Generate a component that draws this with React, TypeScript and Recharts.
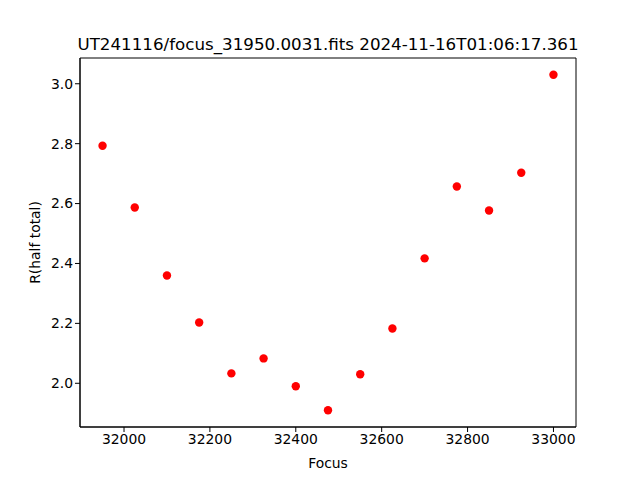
import { ScatterChart, Scatter, XAxis, YAxis, ReferenceArea } from "recharts";

// focus positions and measured half-total radius
const focus = [31950, 32025, 32100, 32175, 32250, 32325, 32400, 32475, 32550, 32625, 32700, 32775, 32850, 32925, 33000];
const rHalf = [2.793, 2.587, 2.36, 2.203, 2.033, 2.083, 1.99, 1.91, 2.03, 2.183, 2.417, 2.657, 2.577, 2.703, 3.03];

const xTicks = [32000, 32200, 32400, 32600, 32800, 33000];
const yTicks = [2.0, 2.2, 2.4, 2.6, 2.8, 3.0];

const data = focus.map((f, i) => ({ focus: f, r: rHalf[i] }));

const xDomain = [31897.5, 33052.5];
const yDomain = [1.854, 3.086];

const font = "DejaVu Sans, sans-serif";
const tickStyle = { fontSize: 13.9, fill: "#000", fontFamily: font };

const Dot = (props: any) => <circle cx={props.cx} cy={props.cy} r={4.2} fill="#ff0000" />;

export default function App() {
  return (
    <div style={{ position: "absolute", left: 0, top: 0, width: 640, height: 480, background: "#fff" }}>
      <ScatterChart width={640} height={480} margin={{ top: 58, right: 64, bottom: 0, left: 0 }}>
        <text x={328} y={50} textAnchor="middle" fontSize={16.7} fontFamily={font} fill="#000">
          UT241116/focus_31950.0031.fits 2024-11-16T01:06:17.361
        </text>
        <XAxis
          dataKey="focus"
          type="number"
          domain={xDomain}
          allowDataOverflow
          ticks={xTicks}
          height={53}
          tickSize={5}
          tick={tickStyle}
          stroke="#000"
          tickLine={{ stroke: "#000" }}
          label={{ value: "Focus", position: "insideBottom", offset: 12, fontSize: 13.9, fill: "#000", fontFamily: font }}
        />
        <YAxis
          dataKey="r"
          type="number"
          domain={yDomain}
          allowDataOverflow
          ticks={yTicks}
          width={80}
          tickSize={5}
          tick={tickStyle}
          tickFormatter={(v: number) => v.toFixed(1)}
          stroke="#000"
          tickLine={{ stroke: "#000" }}
          label={{ value: "R(half total)", angle: -90, position: "insideLeft", offset: 35, fontSize: 13.9, fill: "#000", fontFamily: font, style: { textAnchor: "middle" } }}
        />
        <ReferenceArea x1={xDomain[0]} x2={xDomain[1]} y1={yDomain[0]} y2={yDomain[1]} fill="none" stroke="#000" strokeWidth={1} ifOverflow="visible" />
        <Scatter data={data} shape={Dot} isAnimationActive={false} />
      </ScatterChart>
    </div>
  );
}
